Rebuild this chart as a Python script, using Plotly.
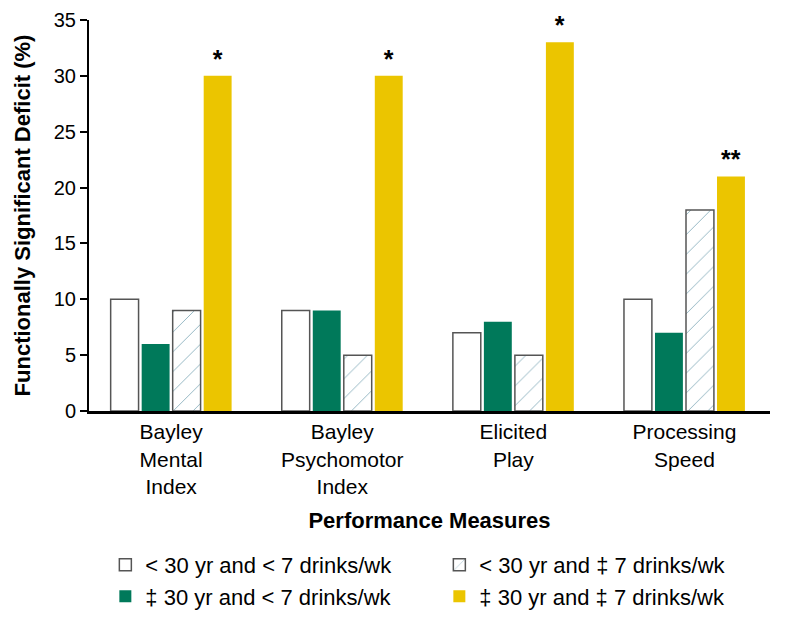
import plotly.graph_objects as go

categories = ["Bayley<br>Mental<br>Index", "Bayley<br>Psychomotor<br>Index", "Elicited<br>Play", "Processing<br>Speed"]
young_light = [10, 9, 7, 10]
old_light = [6, 9, 8, 7]
young_heavy = [9, 5, 5, 18]
old_heavy = [30, 30, 33, 21]
significance = ["<b>*</b>", "<b>*</b>", "<b>*</b>", "<b>**</b>"]

names = [
    "< 30 yr and < 7 drinks/wk",
    "‡ 30 yr and < 7 drinks/wk",
    "< 30 yr and ‡ 7 drinks/wk",
    "‡ 30 yr and ‡ 7 drinks/wk",
]

fig = go.Figure()
fig.add_bar(x=categories, y=young_light, name=names[0], legendrank=1,
            marker=dict(color="white", line=dict(color="#555555", width=1.5)))
fig.add_bar(x=categories, y=old_light, name=names[1], legendrank=3,
            marker=dict(color="#00795a", line=dict(color="#00795a", width=0)))
fig.add_bar(x=categories, y=young_heavy, name=names[2], legendrank=2,
            marker=dict(color="white", line=dict(color="#555555", width=1.5),
                        pattern=dict(shape="/", fgcolor="#2a6e88", bgcolor="white",
                                     size=14, solidity=0.07)))
fig.add_bar(x=categories, y=old_heavy, name=names[3], legendrank=4,
            text=significance, textposition="outside", cliponaxis=False,
            textfont=dict(size=25, color="black", family="Liberation Sans"),
            marker=dict(color="#ebc500", line=dict(color="#ebc500", width=0)))

fig.update_layout(
    width=770, height=610,
    margin=dict(l=81, r=8, t=12, b=207, autoexpand=False),
    plot_bgcolor="white", paper_bgcolor="white",
    barmode="group", bargap=0.275, bargroupgap=0.1,
    font=dict(family="Liberation Sans, Arial, sans-serif", color="black", size=20),
    showlegend=True,
    legend=dict(orientation="h", x=0.024, xanchor="left", y=-0.34, yanchor="top",
                entrywidth=289, entrywidthmode="pixels",
                font=dict(size=22), tracegroupgap=0, itemwidth=30),
    xaxis=dict(range=[-0.48, 3.5], showline=True, linecolor="black", linewidth=3,
               ticks="", tickfont=dict(size=21), showgrid=False, automargin=False,
               title=dict(text="<b>Performance Measures</b>", font=dict(size=22), standoff=16)),
    yaxis=dict(range=[0, 35], dtick=5, showline=True, linecolor="black", linewidth=2,
               ticks="outside", ticklen=7, tickwidth=2, tickcolor="black",
               tickfont=dict(size=20), showgrid=False, zeroline=False, automargin=False,
               title=dict(text="<b>Functionally Significant Deficit (%)</b>",
                          font=dict(size=22), standoff=17)),
)

fig.write_html("out.html")
